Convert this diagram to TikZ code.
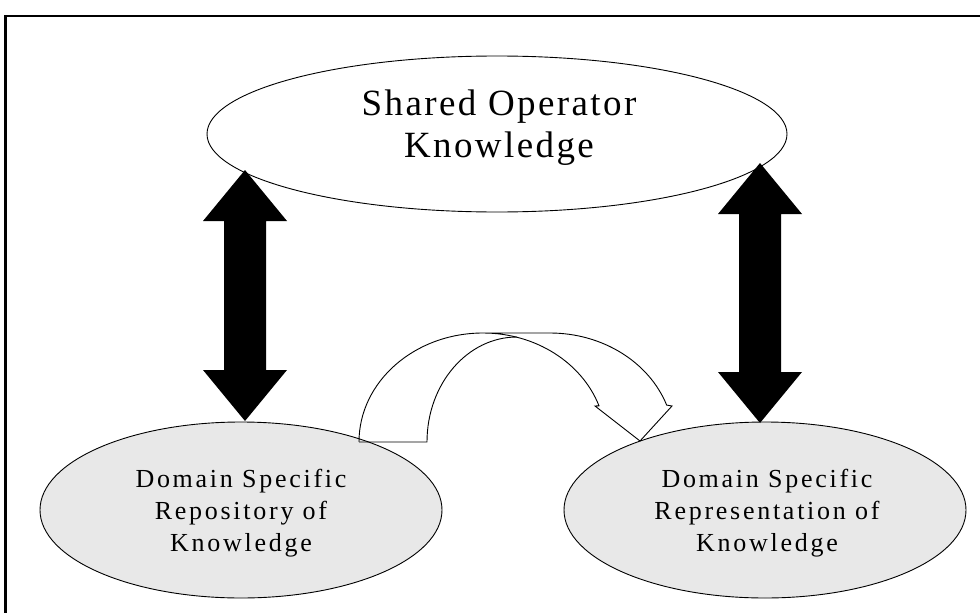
\documentclass[tikz,border=0pt]{standalone}
\usepackage{fontspec}
\setmainfont{Liberation Serif}
\newfontfamily\topfont[LetterSpace=6.5]{Liberation Serif}
\newfontfamily\botfont[LetterSpace=10.5]{Liberation Serif}
\usetikzlibrary{shapes.geometric}
\definecolor{ovalgray}{RGB}{232,232,232}
\newcommand{\bigdarrow}[3]{%
  \fill[black] (#1,#2) -- ++(42,51) -- ++(-21,0) -- (#1+21,#3-51) -- ++(21,0)
    -- (#1,#3) -- (#1-42,#3-51) -- ++(21,0) -- (#1-21,#2+51) -- ++(-21,0) -- cycle;}
\begin{document}
\begin{tikzpicture}[x=1pt,y=-1pt,
  oval/.style={draw=black, line width=0.9pt, ellipse, inner sep=0pt},
  topoval/.style={oval, fill=white, minimum width=580pt, minimum height=156pt},
  botoval/.style={oval, fill=ovalgray, minimum width=402pt, minimum height=176pt},
  toplabel/.style={align=center, inner sep=0pt, font=\topfont\fontsize{37}{42}\selectfont},
  botlabel/.style={align=center, inner sep=0pt, font=\botfont\fontsize{26}{32}\selectfont},
  curved/.style={draw=black, line width=0.9pt, line join=miter}]
\useasboundingbox (0,0) rectangle (980,613);
\clip (0,0) rectangle (980,613);
% frame
\draw[line width=2.6pt] (5.5,700) -- (5.5,16) -- (1000,16);
% ellipses
\node[topoval] (shared) at (497,134) {};
\node[botoval] (repo) at (241,510) {};
\node[botoval] (repr) at (765,510) {};
\node[toplabel] (sharedtxt) at (499,127.5) {Shared Operator\\Knowledge};
\node[botlabel] (repotxt) at (241,513) {Domain Specific\\Repository of\\Knowledge};
\node[botlabel] (reprtxt) at (767,513) {Domain Specific\\Representation of\\Knowledge};
% double arrows
\bigdarrow{245}{170}{421}
\bigdarrow{760}{163}{423}
% curved arrow
\coordinate (tailL) at (359,442);
\coordinate (tailR) at (427,442);
\coordinate (tip) at (640,441);
\draw[curved] (tailL) arc[start angle=180, end angle=270, x radius=124, y radius=109]
  -- (550,333) arc[start angle=-90, end angle=-19.8, x radius=124, y radius=109]
  -- (672,406) -- (tip) -- (595,406) -- (599,405.8)
  arc[start angle=-19.4, end angle=-90, x radius=123, y radius=109];
\draw[curved] (tailL) -- (tailR) arc[start angle=180, end angle=270, x radius=90, y radius=105];
\end{tikzpicture}
\end{document}
